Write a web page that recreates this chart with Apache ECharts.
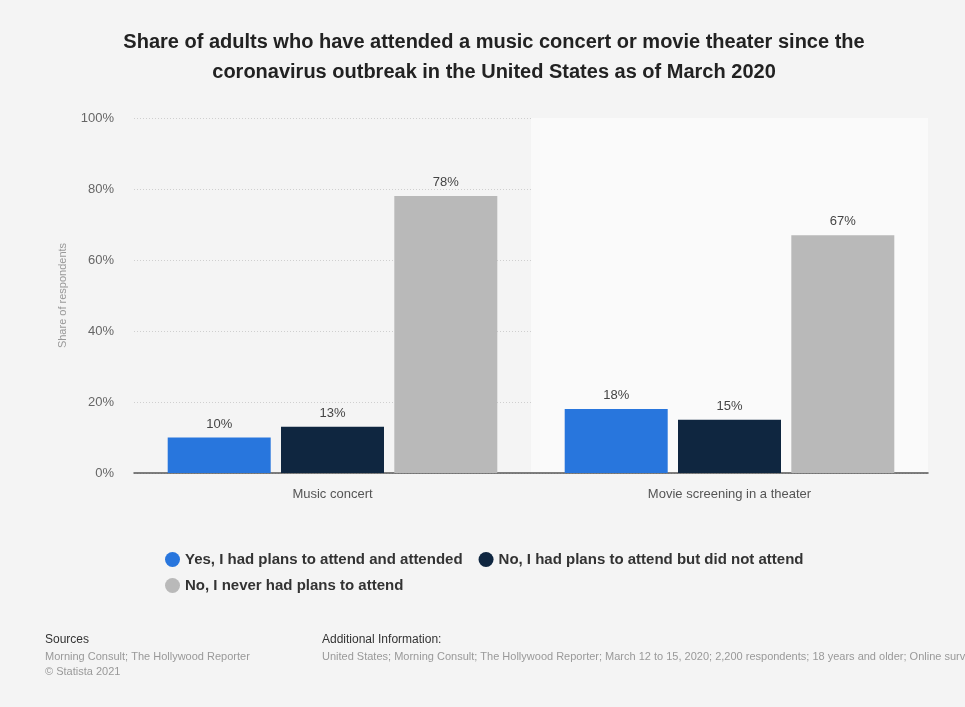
<!DOCTYPE html>
<html><head><meta charset="utf-8">
<script src="https://cdn.jsdelivr.net/npm/echarts@6/dist/echarts.min.js"></script>
<style>html,body{margin:0;padding:0;background:#f4f4f4;}#c{width:965px;height:707px;}</style>
</head><body><div id="c"></div>
<script>
var categories = ['Music concert', 'Movie screening in a theater'];
var seriesNames = ['Yes, I had plans to attend and attended', 'No, I had plans to attend but did not attend', 'No, I never had plans to attend'];
var attended = [10, 18];
var didNotAttend = [13, 15];
var neverPlanned = [78, 67];
var colors = ['#2876dd', '#0f2640', '#b9b9b9'];
var yTicks = [0, 20, 40, 60, 80, 100];

var font = 'Liberation Sans, Arial, sans-serif';
var chart = echarts.init(document.getElementById('c'));
var values = [attended, didNotAttend, neverPlanned];
chart.setOption({
  backgroundColor: '#f4f4f4',
  animation: false,
  title: {
    text: 'Share of adults who have attended a music concert or movie theater since the\ncoronavirus outbreak in the United States as of March 2020',
    left: 489, top: 22, textAlign: 'center',
    textStyle: {fontFamily: font, fontSize: 20, fontWeight: 'bold', color: '#222', lineHeight: 30}
  },
  legend: [{
    left: 160, top: 547, itemGap: 16, icon: 'circle', itemWidth: 15, itemHeight: 15,
    textStyle: {fontFamily: font, fontSize: 15, fontWeight: 'bold', color: '#333'},
    data: [seriesNames[0], seriesNames[1]]
  }, {
    left: 160, top: 573, icon: 'circle', itemWidth: 15, itemHeight: 15,
    textStyle: {fontFamily: font, fontSize: 15, fontWeight: 'bold', color: '#333'},
    data: [seriesNames[2]]
  }],
  grid: {left: 134, right: 37, top: 118, bottom: 234},
  xAxis: {
    type: 'category', data: categories,
    axisLine: {lineStyle: {color: '#555', width: 1.5}},
    axisTick: {show: false},
    axisLabel: {fontFamily: font, fontSize: 13, color: '#555', margin: 15},
    splitArea: {show: true, areaStyle: {color: ['rgba(0,0,0,0)', '#fafafa']}}
  },
  yAxis: {
    type: 'value', min: 0, max: 100, interval: 20,
    name: 'Share of respondents', nameLocation: 'middle', nameGap: 66, nameRotate: 90,
    nameTextStyle: {fontFamily: font, fontSize: 11, color: '#999'},
    axisLabel: {fontFamily: font, fontSize: 13, color: '#666', margin: 20,
      formatter: function (v) { return yTicks.indexOf(v) >= 0 ? v + '%' : ''; }},
    splitLine: {lineStyle: {color: '#cfcfcf', type: [1, 2]}},
    axisLine: {show: false}, axisTick: {show: false}
  },
  series: seriesNames.map(function (n, i) {
    return {
      name: n, type: 'bar', data: values[i], barWidth: 103, barGap: '10%',
      itemStyle: {color: colors[i]},
      label: {show: true, position: 'top', formatter: '{c}%', fontFamily: font, fontSize: 13, color: '#444', distance: 7}
    };
  }),
  graphic: [
    {type: 'text', left: 45, top: 634, style: {text: 'Sources', font: '12px ' + font, fill: '#333'}},
    {type: 'text', left: 45, top: 651, style: {text: 'Morning Consult; The Hollywood Reporter', font: '11px ' + font, fill: '#999'}},
    {type: 'text', left: 45, top: 666, style: {text: '© Statista 2021', font: '11px ' + font, fill: '#999'}},
    {type: 'text', left: 322, top: 634, style: {text: 'Additional Information:', font: '12px ' + font, fill: '#333'}},
    {type: 'text', left: 322, top: 651, style: {text: 'United States; Morning Consult; The Hollywood Reporter; March 12 to 15, 2020; 2,200 respondents; 18 years and older; Online survey', font: '11px ' + font, fill: '#999'}}
  ]
});
</script></body></html>
